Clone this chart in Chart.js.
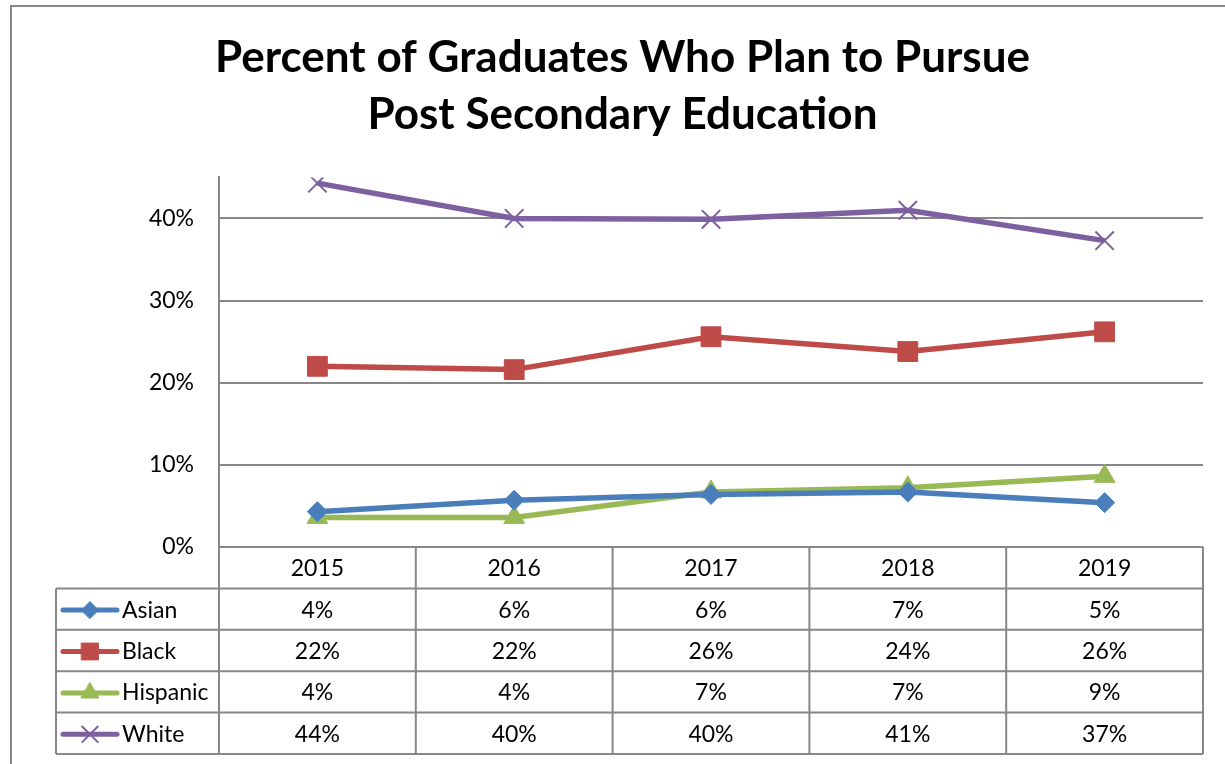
<!DOCTYPE html>
<html lang="en">
<head>
<meta charset="utf-8">
<title>Post Secondary Plans</title>
<script src="https://cdn.jsdelivr.net/npm/chart.js"></script>
<style>
    html, body { margin: 0; padding: 0; background: #fff; }
    #wrap { width: 1225px; height: 764px; }
</style>
</head>
<body>
<div id="wrap"><canvas id="gradChart" width="1225" height="764"></canvas></div>
<script>
const years = ['2015', '2016', '2017', '2018', '2019'];
const asian = [4.3, 5.7, 6.4, 6.7, 5.4];
const black = [22.0, 21.6, 25.6, 23.8, 26.2];
const hispanic = [3.6, 3.6, 6.7, 7.2, 8.6];
const white = [44.3, 40.0, 39.9, 41.0, 37.3];
const yTicks = [0, 10, 20, 30, 40];

const FONT = 'Lato, "Open Sans", sans-serif';
const GRID = '#878787';

const series = [
    { label: 'Asian', data: asian, color: '#4a7ebb', style: 'rectRot', r: 10 },
    { label: 'Black', data: black, color: '#be4b48', style: 'rect', r: 14 },
    { label: 'Hispanic', data: hispanic, color: '#98b954', style: 'triangle', r: 12 },
    { label: 'White', data: white, color: '#7d60a0', style: 'crossRot', r: 13 }
];

// frame round the whole chart
const framePlugin = {
    id: 'frame',
    beforeDraw(chart) {
        const ctx = chart.ctx;
        ctx.save();
        ctx.fillStyle = '#fff';
        ctx.fillRect(0, 0, chart.width, chart.height);
        ctx.strokeStyle = GRID;
        ctx.lineWidth = 2;
        ctx.strokeRect(11, 6, chart.width + 20, chart.height + 20);
        ctx.restore();
    }
};

// data table under the x axis, with legend keys in the first column
const tablePlugin = {
    id: 'dataTable',
    afterDraw(chart) {
        const ctx = chart.ctx;
        const x = chart.scales.x;
        const y = chart.scales.y;
        const top = y.getPixelForValue(0);
        const rowH = 41.4;
        const keyLeft = 56;
        const colW = (x.right - x.left) / years.length;
        const bottom = top + rowH * (series.length + 1);

        ctx.save();
        ctx.strokeStyle = GRID;
        ctx.lineWidth = 2;
        ctx.beginPath();
        // horizontal rules
        ctx.moveTo(x.left, top); ctx.lineTo(x.right, top);
        for (let r = 1; r <= series.length + 1; r++) {
            ctx.moveTo(keyLeft, top + r * rowH);
            ctx.lineTo(x.right, top + r * rowH);
        }
        // vertical rules
        ctx.moveTo(keyLeft, top + rowH); ctx.lineTo(keyLeft, bottom);
        ctx.moveTo(x.left, chart.chartArea.top); ctx.lineTo(x.left, bottom);
        for (let i = 1; i <= years.length; i++) {
            ctx.moveTo(x.left + i * colW, top); ctx.lineTo(x.left + i * colW, bottom);
        }
        ctx.stroke();

        ctx.fillStyle = '#000';
        ctx.font = '23px ' + FONT;
        ctx.textAlign = 'center';
        ctx.textBaseline = 'middle';
        years.forEach((yr, i) => {
            ctx.fillText(yr, x.getPixelForValue(i), top + rowH / 2 + 1);
        });

        series.forEach((s, r) => {
            const cy = top + (r + 1.5) * rowH + 1;
            ctx.fillStyle = '#000';
            ctx.textAlign = 'center';
            s.data.forEach((v, i) => {
                ctx.fillText(Math.round(v) + '%', x.getPixelForValue(i), cy);
            });
            // legend key
            ctx.strokeStyle = s.color;
            ctx.fillStyle = s.color;
            ctx.lineWidth = 5;
            ctx.lineCap = 'round';
            ctx.beginPath();
            ctx.moveTo(63, cy); ctx.lineTo(117, cy);
            ctx.stroke();
            ctx.lineWidth = s.style === 'crossRot' ? 2 : 1;
            Chart.helpers.drawPoint(ctx, {
                pointStyle: s.style, radius: s.r * 0.85, rotation: 0,
                borderWidth: ctx.lineWidth
            }, 90, cy);
            ctx.fillStyle = '#000';
            ctx.textAlign = 'left';
            ctx.fillText(s.label, 122, cy);
        });
        ctx.restore();
    }
};

new Chart(document.getElementById('gradChart'), {
    type: 'line',
    data: {
        labels: years,
        datasets: series.map(s => ({
            label: s.label,
            data: s.data,
            borderColor: s.color,
            backgroundColor: s.color,
            borderWidth: 5.5,
            pointStyle: s.style,
            pointRadius: s.r,
            pointBorderWidth: s.style === 'crossRot' ? 2 : 1,
            pointBackgroundColor: s.color,
            pointBorderColor: s.color,
            tension: 0
        }))
    },
    options: {
        responsive: false,
        animation: false,
        layout: { padding: { left: 20, right: 0, top: 0, bottom: 0 } },
        plugins: {
            legend: { display: false },
            tooltip: { enabled: false },
            title: {
                display: true,
                text: ['Percent of Graduates Who Plan to Pursue', 'Post Secondary Education'],
                color: '#000',
                font: { family: FONT, size: 44, weight: 'bold', lineHeight: 1.3 },
                padding: { top: 29, bottom: 34 }
            }
        },
        scales: {
            x: {
                offset: true,
                grid: { display: false, drawTicks: false },
                border: { display: false },
                ticks: { display: false },
                afterFit: s => { s.height = 217; }
            },
            y: {
                min: 0,
                max: 45,
                afterBuildTicks: s => { s.ticks = yTicks.map(v => ({ value: v })); },
                grid: { color: GRID, lineWidth: 2, drawTicks: false },
                border: { color: GRID, width: 2 },
                ticks: {
                    color: '#000',
                    padding: 25,
                    font: { family: FONT, size: 23 },
                    callback: v => v + '%'
                },
                afterFit: s => { s.width = 199; }
            },
            // empty strip on the right so the plot stops short of the edge
            yRight: {
                position: 'right',
                grid: { display: false, drawTicks: false },
                border: { display: false },
                ticks: { display: false },
                afterFit: s => { s.width = 22; }
            }
        }
    },
    plugins: [framePlugin, tablePlugin]
});
</script>
</body>
</html>
